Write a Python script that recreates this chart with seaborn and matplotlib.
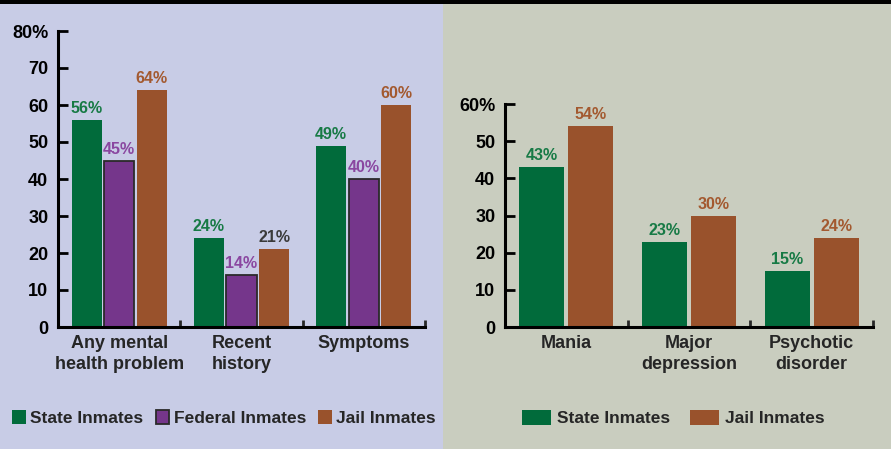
import matplotlib
matplotlib.use("Agg")
import matplotlib.pyplot as plt
import seaborn as sns
import pandas as pd
from matplotlib.patches import Patch, Rectangle

# ---- data ----
left_categories = ["Any mental\nhealth problem", "Recent\nhistory", "Symptoms"]
left_series = ["State Inmates", "Federal Inmates", "Jail Inmates"]
state_left = [56, 24, 49]
federal_left = [45, 14, 40]
jail_left = [64, 21, 60]

right_categories = ["Mania", "Major\ndepression", "Psychotic\ndisorder"]
right_series = ["State Inmates", "Jail Inmates"]
state_right = [43, 23, 15]
jail_right = [54, 30, 24]

left_yticks = [0, 10, 20, 30, 40, 50, 60, 70, 80]
left_yticklabels = ["0", "10", "20", "30", "40", "50", "60", "70", "80%"]
right_yticks = [0, 10, 20, 30, 40, 50, 60]
right_yticklabels = ["0", "10", "20", "30", "40", "50", "60%"]

# ---- style ----
sns.set_style("white")
plt.rcParams["font.family"] = ["Liberation Sans", "DejaVu Sans"]
plt.rcParams["font.weight"] = "bold"

GREEN = "#016b3b"
PURPLE = "#75368b"
BROWN = "#99522c"
LBL = {"State Inmates": "#177a45", "Federal Inmates": "#8a47a0", "Jail Inmates": "#a3592f"}

fig = plt.figure(figsize=(8.91, 4.49), dpi=100)
fig.patches.append(Rectangle((0, 0), 443 / 891, 1, transform=fig.transFigure,
                             facecolor="#c8cce6", edgecolor="none", zorder=-10))
fig.patches.append(Rectangle((443 / 891, 0), 1 - 443 / 891, 1, transform=fig.transFigure,
                             facecolor="#c9cdbf", edgecolor="none", zorder=-10))
fig.patches.append(Rectangle((0, 1 - 4 / 449), 1, 4 / 449, transform=fig.transFigure,
                             facecolor="black", edgecolor="none", zorder=-5))

axL = fig.add_axes([58 / 891, 1 - 327 / 449, (425 - 58) / 891, (327 - 31) / 449])
axR = fig.add_axes([505 / 891, 1 - 327 / 449, (873 - 505) / 891, (327 - 104) / 449])


def build(cats, names, vals):
    rows = []
    for n, v in zip(names, vals):
        for c, x in zip(cats, v):
            rows.append({"cat": c, "series": n, "val": x})
    return pd.DataFrame(rows)


dfL = build(left_categories, left_series, [state_left, federal_left, jail_left])
dfR = build(right_categories, right_series, [state_right, jail_right])


def draw(ax, df, cats, names, palette, ymax, yticks, yticklabels, gap, outlined):
    sns.barplot(data=df, x="cat", y="val", hue="series", order=cats, hue_order=names,
                palette=palette, ax=ax, gap=gap, width=0.8, saturation=1,
                legend=False, errorbar=None, linewidth=0)
    ax.set_facecolor("none")
    ax.set_xlim(-0.5, 2.5)
    ax.set_ylim(0, ymax)
    for name, cont in zip(names, ax.containers):
        for bar in cont:
            if name in outlined:
                bar.set_edgecolor("#2a2a2a")
                bar.set_linewidth(1.3)
            h = bar.get_height()
            lc = LBL[name]
            if name == "Jail Inmates" and h == 21:
                lc = "#3a3a3a"
            ax.annotate(f"{h:.0f}%", (bar.get_x() + bar.get_width() / 2, h),
                        xytext=(0, 5), textcoords="offset points",
                        ha="center", va="baseline", fontsize=11.5,
                        fontweight="bold", color=lc)
    for s in ["top", "right"]:
        ax.spines[s].set_visible(False)
    for s in ["left", "bottom"]:
        ax.spines[s].set_linewidth(2.2)
        ax.spines[s].set_color("black")
    ax.set_yticks(yticks)
    ax.set_yticklabels(yticklabels)
    ax.tick_params(axis="y", direction="in", length=7, width=2, pad=7,
                   labelsize=13, colors="black", left=True)
    ax.set_xticks(range(len(cats)))
    ax.set_xticklabels(cats, fontsize=13, fontweight="bold", linespacing=1.3)
    ax.tick_params(axis="x", length=0, pad=6, bottom=True)
    ax.set_xticks([0.5, 1.5, 2.5], minor=True)
    ax.tick_params(axis="x", which="minor", direction="in", length=5, width=2, bottom=True)
    for t in ax.get_yticklabels():
        t.set_fontweight("bold")
    ax.set_xlabel("")
    ax.set_ylabel("")


draw(axL, dfL, left_categories, left_series, [GREEN, PURPLE, BROWN], 80,
     left_yticks, left_yticklabels, 0.08, {"Federal Inmates"})
draw(axR, dfR, right_categories, right_series, [GREEN, BROWN], 60,
     right_yticks, right_yticklabels, 0.083, set())

# legends
hL = [Patch(facecolor=GREEN, edgecolor="none"),
      Patch(facecolor=PURPLE, edgecolor="#2a2a2a", linewidth=1.3),
      Patch(facecolor=BROWN, edgecolor="none")]
legL = fig.legend(hL, left_series, loc="center left",
                  bbox_to_anchor=(12 / 891, 1 - 418 / 449), bbox_transform=fig.transFigure,
                  ncol=3, frameon=False, borderpad=0, borderaxespad=0,
                  handlelength=0.8, handleheight=0.9, handletextpad=0.25,
                  columnspacing=0.7, prop={"size": 12.5, "weight": "bold"})
hR = [Patch(facecolor=GREEN, edgecolor="none"), Patch(facecolor=BROWN, edgecolor="none")]
legR = fig.legend(hR, right_series, loc="center left",
                  bbox_to_anchor=(522 / 891, 1 - 418 / 449), bbox_transform=fig.transFigure,
                  ncol=2, frameon=False, borderpad=0, borderaxespad=0,
                  handlelength=1.67, handleheight=1.0, handletextpad=0.35,
                  columnspacing=1.15, prop={"size": 12.5, "weight": "bold"})

fig.savefig("out.png", dpi=100, facecolor=fig.get_facecolor())
